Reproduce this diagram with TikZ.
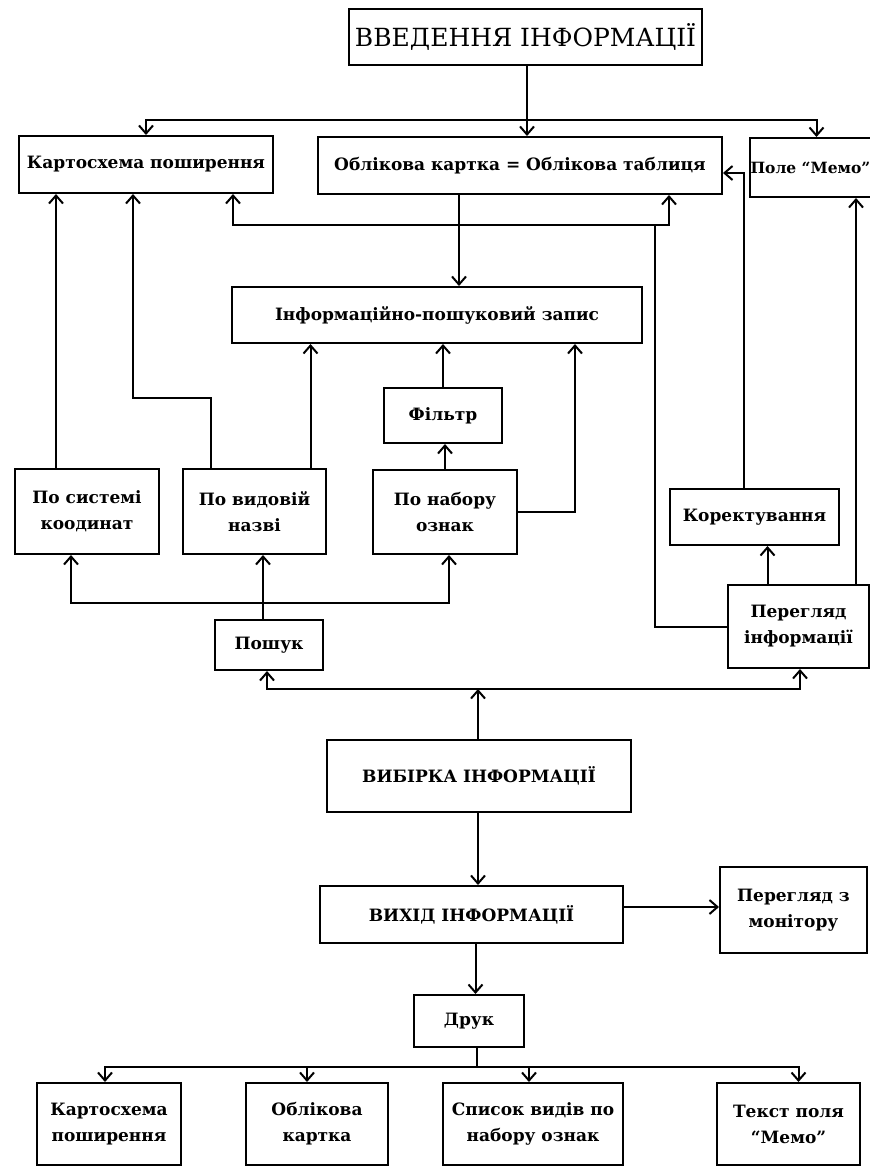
\documentclass[tikz,border=0pt]{standalone}
\usepackage{fontspec}
\setmainfont{DejaVu Serif}
\usetikzlibrary{arrows.meta}

\begin{document}
\begin{tikzpicture}
  [x=1pt,y=-1pt,line width=2pt,
   box/.style={draw,rectangle,inner sep=2pt,align=center,
     font=\bfseries\fontsize{17}{26}\selectfont},
   arr/.style={-{Straight Barb[length=8pt,width=14pt]}}]
  \useasboundingbox (0,0) rectangle (870,1168);
  % upper part
  \node[box,font=\fontsize{25}{30}\selectfont,minimum width=353pt,minimum height=56pt] (nvved) at (525.5,37) {ВВЕДЕННЯ ІНФОРМАЦІЇ};
  \node[box,minimum width=254pt,minimum height=57pt] (nkart) at (146,164.5) {Картосхема поширення};
  \node[box,minimum width=404pt,minimum height=57pt] (nobl) at (520,165.5) {Облікова картка = Облікова таблиця};
  \node[box,font=\bfseries\fontsize{15.5}{26}\selectfont,inner sep=1pt,minimum width=119pt,minimum height=59pt] (nmemo) at (810.5,167.5) {Поле “Мемо”};
  \node[box,minimum width=410pt,minimum height=56pt] (nzapys) at (437,315) {Інформаційно-пошуковий запис};
  \node[box,minimum width=118pt,minimum height=55pt] (nfiltr) at (443,415.5) {Фільтр};
  \node[box,minimum width=144pt,minimum height=85pt] (nsyst) at (87,511.5) {По системі\\коодинат};
  \node[box,minimum width=143pt,minimum height=85pt] (nvyd) at (254.5,511.5) {По видовій\\назві};
  \node[box,minimum width=144pt,minimum height=84pt] (nnab) at (445,512) {По набору\\ознак};
  \node[box,minimum width=169pt,minimum height=56pt] (nkor) at (754.5,517) {Коректування};
  \node[box,minimum width=141pt,minimum height=83pt] (npere) at (798.5,626.5) {Перегляд\\інформації};
  \node[box,minimum width=108pt,minimum height=50pt] (nposh) at (269,645) {Пошук};
  % lower part
  \node[box,minimum width=304pt,minimum height=72pt] (nvyb) at (479,776) {ВИБІРКА ІНФОРМАЦІЇ};
  \node[box,minimum width=303pt,minimum height=57pt] (nvykh) at (471.5,914.5) {ВИХІД ІНФОРМАЦІЇ};
  \node[box,minimum width=147pt,minimum height=86pt] (nmon) at (793.5,910) {Перегляд з\\монітору};
  \node[box,minimum width=110pt,minimum height=52pt] (ndruk) at (469,1021) {Друк};
  \node[box,minimum width=144pt,minimum height=82pt] (nkart2) at (109,1124) {Картосхема\\поширення};
  \node[box,minimum width=142pt,minimum height=82pt] (nobl2) at (317,1124) {Облікова\\картка};
  \node[box,minimum width=180pt,minimum height=82pt] (nspys) at (533,1124) {Список видів по\\набору ознак};
  \node[box,minimum width=143pt,minimum height=82pt] (ntekst) at (788.5,1124) {Текст поля\\“Мемо”};

  % junctions
  \coordinate (jtop) at (527,120);
  \coordinate (jposh) at (263,603);
  \coordinate (jvyb) at (478,689);
  \coordinate (jpere) at (655,225);
  \coordinate (jdruk) at (477,1067);

  % введення
  \draw[arr] (nvved.south -| jtop) -- (nobl.north -| jtop);
  \draw[arr] (jtop) -| (nkart.north);
  \draw[arr] (jtop) -| ([xshift=6pt]nmemo.north);
  \draw[arr] ([xshift=-61pt]nobl.south) -- ([xshift=-61pt]nobl.south |- nzapys.north);

  % пошук
  \draw[arr] ([xshift=-31pt]nsyst.north) -- ([xshift=-31pt]nsyst.north |- nkart.south);
  \draw[arr] ([xshift=-44pt]nvyd.north) -- ++(0,-70) -| ([xshift=-13pt]nkart.south);
  \draw[arr] ([xshift=56pt]nvyd.north) -- ([xshift=56pt]nvyd.north |- nzapys.south);
  \draw[arr] (nfiltr.north) -- (nfiltr.north |- nzapys.south);
  \draw[arr] (nnab.north) -- (nnab.north |- nfiltr.south);
  \draw[arr] (nnab.east) -| ([xshift=138pt]nzapys.south);
  \draw[arr] ([xshift=-6pt]nposh.north) -- ([xshift=-6pt]nposh.north |- nvyd.south);
  \draw[arr] (jposh) -| ([xshift=-16pt]nsyst.south);
  \draw[arr] (jposh) -| ([xshift=4pt]nnab.south);

  % перегляд
  \draw[arr] ([xshift=-31pt]npere.north) -- ([xshift=-31pt]npere.north |- nkor.south);
  \draw[arr] ([xshift=-11pt]nkor.north) |- ([yshift=-7.5pt]nobl.east);
  \draw[arr] ([xshift=57.5pt]npere.north) -- ([xshift=57.5pt]npere.north |- nmemo.south);
  \draw (npere.west) -| (jpere);
  \draw[arr] (jpere) -| ([xshift=87pt]nkart.south);
  \draw[arr] (jpere) -| ([xshift=149pt]nobl.south);

  % вибірка, вихід
  \draw[arr] (nvyb.north -| jvyb) -- (jvyb);
  \draw[arr] (jvyb) -| ([xshift=-2pt]nposh.south);
  \draw[arr] (jvyb) -| ([xshift=1.5pt]npere.south);
  \draw[arr] (nvyb.south -| jvyb) -- (nvykh.north -| jvyb);
  \draw[arr] ([yshift=7.5pt]nvykh.east) -- ([yshift=7.5pt]nvykh.east -| nmon.west);
  \draw[arr] ([xshift=4pt]nvykh.south) -- ([xshift=4pt]nvykh.south |- ndruk.north);
  \draw (ndruk.south -| jdruk) -- (jdruk);
  \foreach \n/\s in {nkart2/-4,nobl2/-10,nspys/-4,ntekst/10}
    \draw[arr] (jdruk) -| ([xshift=\s pt]\n.north);
\end{tikzpicture}
\end{document}
